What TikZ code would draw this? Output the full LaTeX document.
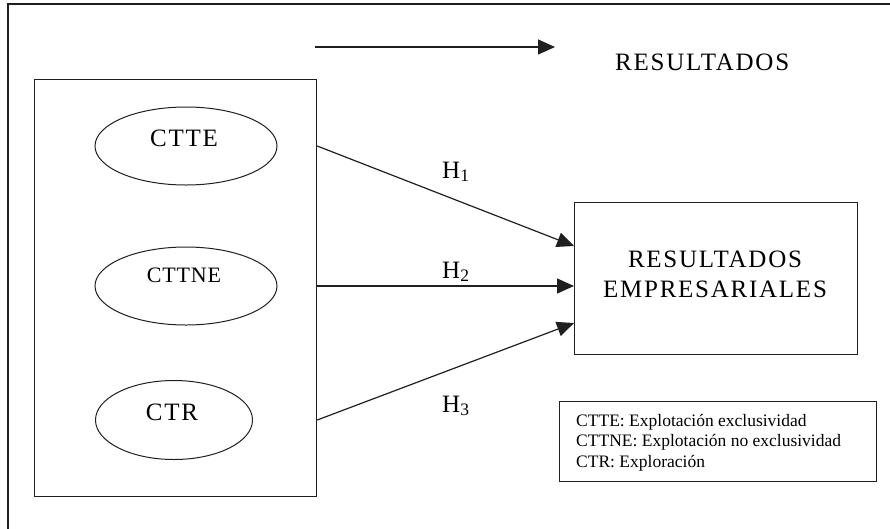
\documentclass[tikz,border=0pt]{standalone}
\usepackage{fontspec}
\setmainfont{Liberation Serif}
\usetikzlibrary{arrows.meta,shapes.geometric}
\begin{document}
\begin{tikzpicture}[x=1pt,y=-1pt,
  ink/.style={draw=black!88, line width=1.2pt},
  ell/.style={ink, ellipse, line width=1pt, inner sep=0pt},
  boxnode/.style={ink, rectangle, inner sep=0pt},
  arr/.style={ink, -{Triangle[length=17pt,width=15pt]}},
  big/.style={font=\fontsize{25}{30}\selectfont\addfontfeatures{LetterSpace=7}, inner sep=0pt},
  mid/.style={font=\fontsize{22}{26}\selectfont\addfontfeatures{LetterSpace=4}, inner sep=0pt},
  hlab/.style={font=\fontsize{25}{30}\selectfont, inner sep=0pt, anchor=base west},
  small/.style={font=\fontsize{17.5}{20.5}\selectfont, inner sep=0pt, anchor=base west}]
\useasboundingbox (0,0) rectangle (890,528);
\draw[ink] (8,4) rectangle (900,540);
% top arrow and title
\coordinate (a0) at (315,47);
\coordinate (a1) at (555,47);
\draw[arr] (a0) -- (a1);
\node[big, anchor=base west] (title) at (615,70) {RESULTADOS};
% inner box with ellipses
\node[boxnode, minimum width=282, minimum height=417, anchor=north west] (inner) at (34,79) {};
\node[ell, minimum width=182, minimum height=78] (ctte) at (186,146) {};
\node[big] (ctteT) at (184,138) {CTTE};
\node[ell, minimum width=182, minimum height=78] (cttne) at (186,286) {};
\node[mid] (cttneT) at (184,275) {CTTNE};
\node[ell, minimum width=157, minimum height=79] (ctr) at (174,420) {};
\node[big] (ctrT) at (172,412) {CTR};
% results box
\node[boxnode, minimum width=283, minimum height=152, anchor=north west] (res) at (574,202) {};
\node[big, align=center] (resT) at (715,274) {RESULTADOS\\EMPRESARIALES};
% connectors
\coordinate (s1) at (inner.east |- ctte);
\coordinate (s2) at (inner.east |- cttne);
\coordinate (s3) at (inner.east |- ctr);
\coordinate (t1) at (res.west |- 0,246);
\coordinate (t2) at (res.west |- 0,286);
\coordinate (t3) at (res.west |- 0,323);
\draw[arr] (s1) -- (t1);
\draw[arr] (s2) -- (t2);
\draw[arr] (s3) -- (t3);
\node[hlab] (h1) at (442,178) {H\textsubscript{1}};
\node[hlab] (h2) at (442,278) {H\textsubscript{2}};
\node[hlab] (h3) at (442,412) {H\textsubscript{3}};
% legend
\node[boxnode, minimum width=317, minimum height=80, anchor=north west] (leg) at (559,401) {};
\node[small] (l1) at (576,426) {CTTE: Explotación exclusividad};
\node[small] (l2) at (576,446.5) {CTTNE: Explotación no exclusividad};
\node[small] (l3) at (576,467) {CTR: Exploración};
\end{tikzpicture}
\end{document}
